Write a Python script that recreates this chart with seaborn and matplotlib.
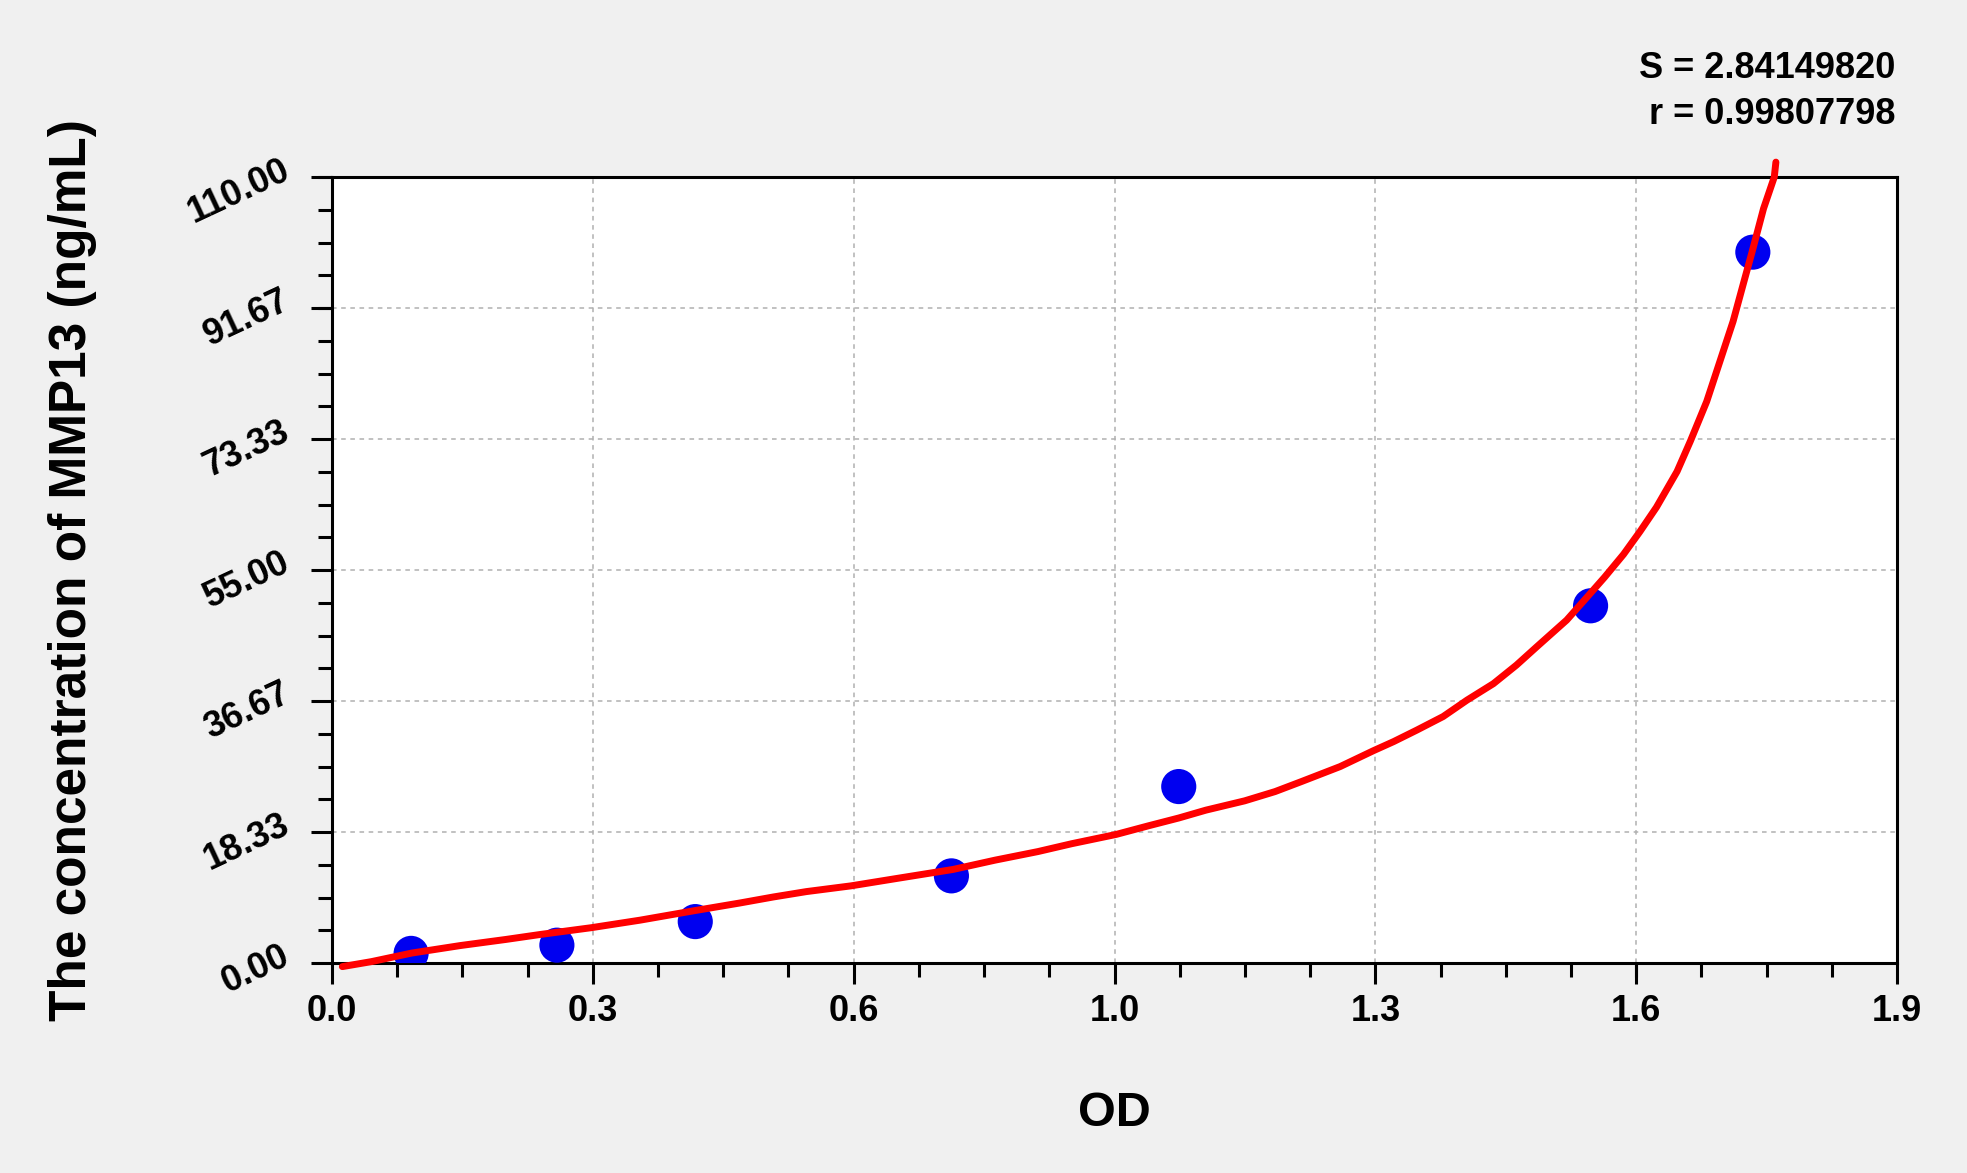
import matplotlib.pyplot as plt
import seaborn as sns
from matplotlib.ticker import AutoMinorLocator

# Standard points (OD vs concentration)
od_points = [0.096, 0.273, 0.441, 0.752, 1.028, 1.528, 1.725]
conc_points = [1.35, 2.5, 5.8, 12.2, 24.7, 50.0, 99.5]

# Fitted curve
curve_od = [0.0125, 0.048, 0.097, 0.156, 0.211, 0.253, 0.315, 0.374, 0.441,
            0.495, 0.536, 0.576, 0.630, 0.689, 0.754, 0.805, 0.857, 0.898,
            0.952, 0.991, 1.028, 1.061, 1.108, 1.145, 1.177, 1.224, 1.264,
            1.289, 1.317, 1.349, 1.378, 1.410, 1.438, 1.463, 1.499, 1.519,
            1.545, 1.568, 1.588, 1.608, 1.633, 1.649, 1.669, 1.685, 1.701,
            1.714, 1.724, 1.738, 1.751, 1.753]
curve_conc = [-0.5, 0.2, 1.4, 2.45, 3.3, 4.0, 4.95, 6.0, 7.35,
              8.4, 9.25, 10.0, 10.8, 11.9, 13.1, 14.4, 15.6, 16.7,
              18.0, 19.2, 20.3, 21.4, 22.7, 24.0, 25.4, 27.5, 29.7,
              31.0, 32.6, 34.5, 36.8, 39.1, 41.7, 44.3, 48.0, 50.6,
              54.0, 57.2, 60.4, 63.8, 68.8, 73.0, 78.6, 84.2, 89.8,
              95.3, 99.5, 105.6, 110.0, 112.1]

x_tick_values = [0.0, 0.31667, 0.63333, 0.95, 1.26667, 1.58333, 1.9]
x_tick_labels = ["0.0", "0.3", "0.6", "1.0", "1.3", "1.6", "1.9"]
y_tick_values = [0.0, 18.333, 36.667, 55.0, 73.333, 91.667, 110.0]
y_tick_labels = ["0.00", "18.33", "36.67", "55.00", "73.33", "91.67", "110.00"]

fit_s = "S = 2.84149820"
fit_r = "r = 0.99807798"

sns.set_theme(style="white")
plt.rcParams["font.family"] = ["Liberation Sans", "DejaVu Sans"]
plt.rcParams["font.weight"] = "bold"
plt.rcParams["text.color"] = "black"
plt.rcParams["axes.labelcolor"] = "black"
plt.rcParams["xtick.color"] = "black"
plt.rcParams["ytick.color"] = "black"

fig = plt.figure(figsize=(19.67, 11.73), dpi=100, facecolor="#f0f0f0")
ax = fig.add_axes([0.1688, 0.179, 0.7956, 0.670])
ax.set_facecolor("white")

sns.scatterplot(x=od_points, y=conc_points, ax=ax, s=640, color="#0000f0",
                edgecolor="none", zorder=3)
sns.lineplot(x=curve_od, y=curve_conc, ax=ax, sort=False, color="#ff0000",
             linewidth=5, zorder=4)
for line in ax.lines:
    line.set_clip_on(False)
    line.set_solid_capstyle("round")
    line.set_solid_joinstyle("round")

ax.set_xlim(0, 1.9)
ax.set_ylim(0, 110)
ax.set_xticks(x_tick_values)
ax.set_xticklabels(x_tick_labels, fontsize=26, fontweight="bold", color="black")
ax.set_yticks(y_tick_values)
ax.set_yticklabels(y_tick_labels, rotation=25, ha="right", va="baseline",
                   rotation_mode="anchor", fontsize=26, fontweight="bold",
                   color="black")
ax.xaxis.set_minor_locator(AutoMinorLocator(4))
ax.yaxis.set_minor_locator(AutoMinorLocator(4))

ax.tick_params(axis="both", which="major", direction="out", length=15, width=2.2,
               color="black")
ax.tick_params(axis="both", which="minor", direction="out", length=10, width=2.2,
               color="black")
ax.tick_params(axis="x", which="major", pad=7)
ax.tick_params(axis="y", which="major", pad=14)
ax.tick_params(left=True, bottom=True, which="both")

for spine in ax.spines.values():
    spine.set_visible(True)
    spine.set_color("black")
    spine.set_linewidth(2.2)

ax.grid(True, which="major", color="#b0b0b0", linestyle=(0, (3, 3)), linewidth=1.1)
ax.set_axisbelow(True)

ax.set_xlabel("OD", fontsize=35, fontweight="bold")
ax.set_ylabel("The concentration of MMP13 (ng/mL)", fontsize=37, fontweight="bold")
ax.xaxis.set_label_coords(0.5, -0.163)
ax.yaxis.set_label_coords(-0.15, 0.5)

fig.text(0.9635, 0.942, fit_s, ha="right", va="center", fontsize=26, fontweight="bold")
fig.text(0.9635, 0.902, fit_r, ha="right", va="center", fontsize=26, fontweight="bold")

fig.savefig("out.png", dpi=100, facecolor=fig.get_facecolor())
